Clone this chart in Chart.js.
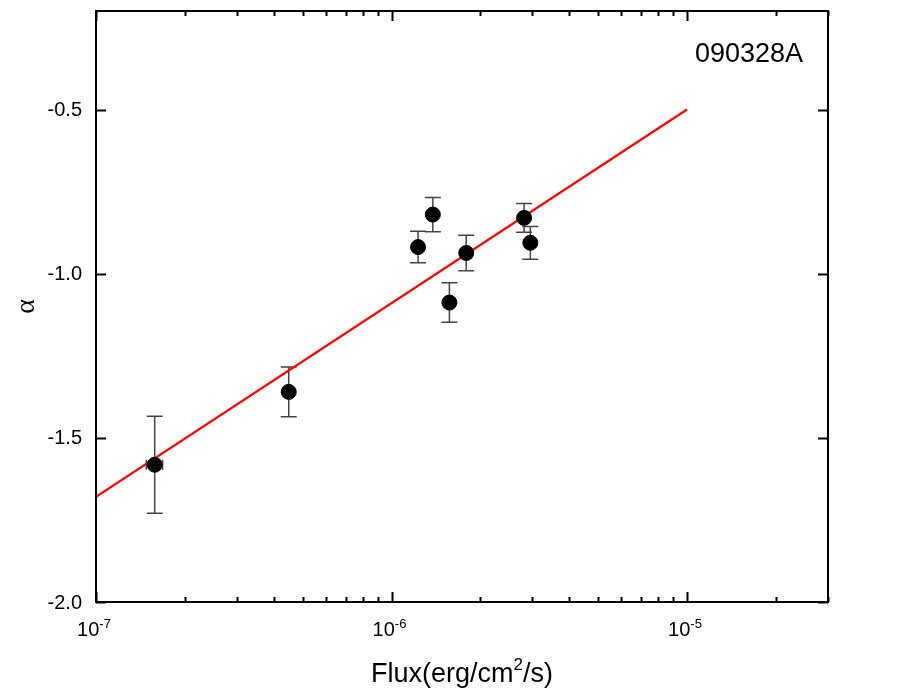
<!DOCTYPE html>
<html><head><meta charset="utf-8">
<script src="https://cdn.jsdelivr.net/npm/chart.js@4/dist/chart.umd.min.js"></script>
<style>html,body{margin:0;padding:0;background:#fff}#wrap{width:917px;height:695px;position:relative}</style>
</head><body><div id="wrap"><canvas id="c"></canvas></div>
<script>
// ---- data ----
const flux      = [1.58e-7, 4.49e-7, 1.23e-6, 1.38e-6, 1.57e-6, 1.79e-6, 2.81e-6, 2.95e-6];
const alpha     = [-1.582, -1.360, -0.919, -0.820, -1.088, -0.937, -0.830, -0.906];
const alphaErr  = [0.148, 0.076, 0.048, 0.052, 0.060, 0.054, 0.044, 0.050];
const fluxLo    = [1.48e-7, 4.49e-7, 1.23e-6, 1.38e-6, 1.57e-6, 1.79e-6, 2.81e-6, 2.95e-6];
const fluxHi    = [1.68e-7, 4.49e-7, 1.23e-6, 1.38e-6, 1.57e-6, 1.79e-6, 2.81e-6, 2.95e-6];
const fitFlux   = [1e-7, 1e-5];
const fitAlpha  = [-1.68, -0.50];
const xMajorTicks = [1e-7, 1e-6, 1e-5];
const xTickExp    = ['-7', '-6', '-5'];
const yTicks      = [-2.0, -1.5, -1.0, -0.5];
const yTickLabels = ['-2.0', '-1.5', '-1.0', '-0.5'];
const labelText   = '090328A';
const xTitleParts = ['Flux(erg/cm', '2', '/s)'];
const yTitle      = '\u03B1';

const FONT = '"Liberation Sans", Arial, sans-serif';

const points = flux.map((f, i) => ({x: f, y: alpha[i]}));
const fitPts = fitFlux.map((f, i) => ({x: f, y: fitAlpha[i]}));

const errorBars = {
  id: 'errorBars',
  beforeDatasetsDraw(chart) {
    const {ctx, scales: {x, y}} = chart;
    ctx.save();
    ctx.strokeStyle = '#444';
    ctx.lineWidth = 1.5;
    const cap = 8;
    for (let i = 0; i < flux.length; i++) {
      const px = x.getPixelForValue(flux[i]);
      const py = y.getPixelForValue(alpha[i]);
      const yt = y.getPixelForValue(alpha[i] + alphaErr[i]);
      const yb = y.getPixelForValue(alpha[i] - alphaErr[i]);
      ctx.beginPath();
      ctx.moveTo(px, yt); ctx.lineTo(px, yb);
      ctx.moveTo(px - cap, yt); ctx.lineTo(px + cap, yt);
      ctx.moveTo(px - cap, yb); ctx.lineTo(px + cap, yb);
      ctx.stroke();
      if (fluxLo[i] < flux[i] || fluxHi[i] > flux[i]) {
        const xl = x.getPixelForValue(fluxLo[i]);
        const xr = x.getPixelForValue(fluxHi[i]);
        ctx.beginPath();
        ctx.moveTo(xl, py); ctx.lineTo(xr, py);
        ctx.moveTo(xl, py - 5); ctx.lineTo(xl, py + 5);
        ctx.moveTo(xr, py - 5); ctx.lineTo(xr, py + 5);
        ctx.stroke();
      }
    }
    ctx.restore();
  }
};

const frame = {
  id: 'frame',
  afterDraw(chart) {
    const {ctx, chartArea: a, scales: {x, y}} = chart;
    ctx.save();
    ctx.strokeStyle = '#000';
    ctx.lineWidth = 2;
    ctx.strokeRect(a.left, a.top, a.right - a.left, a.bottom - a.top);
    // x ticks (major + minor), mirrored top
    ctx.beginPath();
    const xmin = x.min, xmax = x.max;
    for (let e = -7; e <= -5; e++) {
      for (let m = 1; m <= 9; m++) {
        const v = m * Math.pow(10, e);
        if (v < xmin * 0.999 || v > xmax * 1.001) continue;
        const px = Math.round(x.getPixelForValue(v)) + 0.5;
        const len = m === 1 ? 10 : 5;
        ctx.moveTo(px, a.bottom); ctx.lineTo(px, a.bottom - len);
        ctx.moveTo(px, a.top); ctx.lineTo(px, a.top + len);
      }
    }
    // y ticks, mirrored right
    yTicks.forEach(v => {
      const py = Math.round(y.getPixelForValue(v)) + 0.5;
      ctx.moveTo(a.left, py); ctx.lineTo(a.left + 10, py);
      ctx.moveTo(a.right, py); ctx.lineTo(a.right - 10, py);
    });
    ctx.stroke();
    ctx.fillStyle = '#000';
    // y tick labels
    ctx.font = '20px ' + FONT;
    ctx.textAlign = 'right';
    ctx.textBaseline = 'middle';
    yTicks.forEach((v, i) => {
      ctx.fillText(yTickLabels[i], a.left - 14, y.getPixelForValue(v) + 1);
    });
    // x tick labels with superscript exponent
    ctx.textBaseline = 'alphabetic';
    ctx.textAlign = 'left';
    xMajorTicks.forEach((v, i) => {
      const px = x.getPixelForValue(v);
      ctx.font = '20px ' + FONT;
      const wb = ctx.measureText('10').width;
      ctx.font = '13px ' + FONT;
      const we = ctx.measureText(xTickExp[i]).width;
      const start = px - 2 - (wb + we) / 2;
      ctx.font = '20px ' + FONT;
      ctx.fillText('10', start, 636);
      ctx.font = '13px ' + FONT;
      ctx.fillText(xTickExp[i], start + wb, 628);
    });
    // x axis title with superscript
    ctx.font = '27px ' + FONT;
    const w0 = ctx.measureText(xTitleParts[0]).width;
    const w2 = ctx.measureText(xTitleParts[2]).width;
    ctx.font = '17px ' + FONT;
    const w1 = ctx.measureText(xTitleParts[1]).width;
    const cx = (a.left + a.right) / 2;
    let sx = cx - (w0 + w1 + w2) / 2;
    ctx.font = '27px ' + FONT;
    ctx.fillText(xTitleParts[0], sx, 682);
    ctx.font = '17px ' + FONT;
    ctx.fillText(xTitleParts[1], sx + w0, 670);
    ctx.font = '27px ' + FONT;
    ctx.fillText(xTitleParts[2], sx + w0 + w1, 682);
    // label
    ctx.font = '27px ' + FONT;
    ctx.fillText(labelText, 695, 62);
    ctx.restore();
  }
};

new Chart(document.getElementById('c'), {
  data: {
    datasets: [
      {
        type: 'scatter',
        data: points,
        backgroundColor: '#000',
        borderColor: '#000',
        pointRadius: 7.5,
        pointHoverRadius: 7.5,
        order: 0
      },
      {
        type: 'line',
        data: fitPts,
        borderColor: '#ff0000',
        borderWidth: 2.2,
        pointRadius: 0,
        fill: false,
        order: 1
      }
    ]
  },
  options: {
    responsive: true,
    maintainAspectRatio: false,
    animation: false,
    events: [],
    layout: {padding: {top: 11, right: 89, left: 0, bottom: 0}},
    plugins: {legend: {display: false}, tooltip: {enabled: false}},
    scales: {
      x: {
        type: 'logarithmic',
        min: 1e-7, max: 3e-5,
        grid: {display: false, drawTicks: false},
        border: {display: false},
        ticks: {display: false},
        afterBuildTicks: s => { s.ticks = xMajorTicks.map(v => ({value: v})); },
        afterFit: s => { s.height = 93; },
        title: {display: false}
      },
      y: {
        type: 'linear',
        min: -2.0, max: -0.2,
        grid: {display: false, drawTicks: false},
        border: {display: false},
        ticks: {display: false},
        afterBuildTicks: s => { s.ticks = yTicks.map(v => ({value: v})); },
        afterFit: s => { s.width = 96; },
        title: {display: true, text: yTitle, color: '#000',
                font: {family: '"Liberation Serif", serif', size: 28}, padding: {top: 10}}
      }
    }
  },
  plugins: [errorBars, frame]
});
</script>
</body></html>
